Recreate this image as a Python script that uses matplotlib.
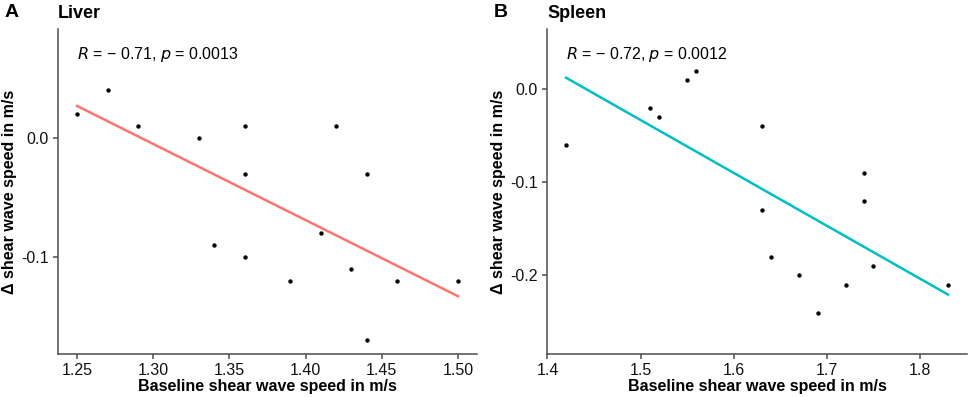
"""
Change in shear wave speed vs baseline, liver and spleen
"""

import numpy as np
import matplotlib.pyplot as plt

plt.rcParams["font.family"] = ["Liberation Sans", "DejaVu Sans"]

liver_x = [1.25, 1.27, 1.29, 1.33, 1.36, 1.36, 1.42, 1.44, 1.34, 1.36,
           1.39, 1.41, 1.43, 1.46, 1.50, 1.44]
liver_y = [0.02, 0.04, 0.01, 0.00, 0.01, -0.03, 0.01, -0.03, -0.09, -0.10,
           -0.12, -0.08, -0.11, -0.12, -0.12, -0.17]

spleen_x = [1.42, 1.51, 1.52, 1.55, 1.56, 1.63, 1.74, 1.74, 1.63, 1.64,
            1.67, 1.69, 1.72, 1.75, 1.83]
spleen_y = [-0.06, -0.02, -0.03, 0.01, 0.02, -0.04, -0.09, -0.12, -0.13, -0.18,
            -0.20, -0.24, -0.21, -0.19, -0.21]

panels = [
    ("A", "Liver", liver_x, liver_y, "#F8766D", "− 0.71", "0.0013",
     [1.25, 1.30, 1.35, 1.40, 1.45, 1.50], [0.0, -0.1],
     (1.2375, 1.5125), (-0.1815, 0.0916), 0.07),
    ("B", "Spleen", spleen_x, spleen_y, "#00BFC4", "− 0.72", "0.0012",
     [1.4, 1.5, 1.6, 1.7, 1.8], [0.0, -0.1, -0.2],
     (1.3995, 1.8505), (-0.2846, 0.0648), 0.037),
]

fig = plt.figure(figsize=(9.69, 3.97), dpi=100)
lefts = [0.0599, 0.5645]
widths = [0.4324, 0.4335]

for i, (tag, name, xs, ys, color, r, p, xt, yt, xl, yl, ty) in enumerate(panels):
    ax = fig.add_axes([lefts[i], 0.1083, widths[i], 0.8187])
    xs = np.array(xs)
    ys = np.array(ys)
    k, b = np.polyfit(xs, ys, 1)
    fx = np.array([xs.min(), xs.max()])
    ax.plot(fx, k * fx + b, color=color, lw=1.8, zorder=2)
    ax.scatter(xs, ys, s=10, color="black", zorder=3, linewidths=0)

    ax.text(xs.min(), ty, f"$R$ = {r}, $p$ = {p}", fontsize=11.5,
            va="center", ha="left", color="black")

    ax.set_xlim(*xl)
    ax.set_ylim(*yl)
    ax.set_xticks(xt)
    ax.set_xticklabels([f"{v:.2f}" if i == 0 else f"{v:.1f}" for v in xt])
    ax.set_yticks(yt)
    ax.set_yticklabels([f"{v:.1f}" for v in yt])

    for side in ["top", "right"]:
        ax.spines[side].set_visible(False)
    for side in ["left", "bottom"]:
        ax.spines[side].set_color("#4d4d4d")
        ax.spines[side].set_linewidth(1.1)
    ax.tick_params(colors="#4d4d4d", labelcolor="#111111", labelsize=11.5,
                   length=3.5, width=1.1, pad=3)

    ax.set_xlabel("Baseline shear wave speed in m/s", fontsize=11.5,
                  fontweight="bold", labelpad=1)
    ax.set_ylabel("Δ shear wave speed in m/s", fontsize=11.5,
                  fontweight="bold", labelpad=3)

    fig.text(lefts[i] - 0.055, 0.968, tag, fontsize=14, fontweight="bold",
             va="center", ha="left")
    fig.text(lefts[i], 0.965, name, fontsize=13, fontweight="bold",
             va="center", ha="left")

plt.savefig("out.png", dpi=100)
